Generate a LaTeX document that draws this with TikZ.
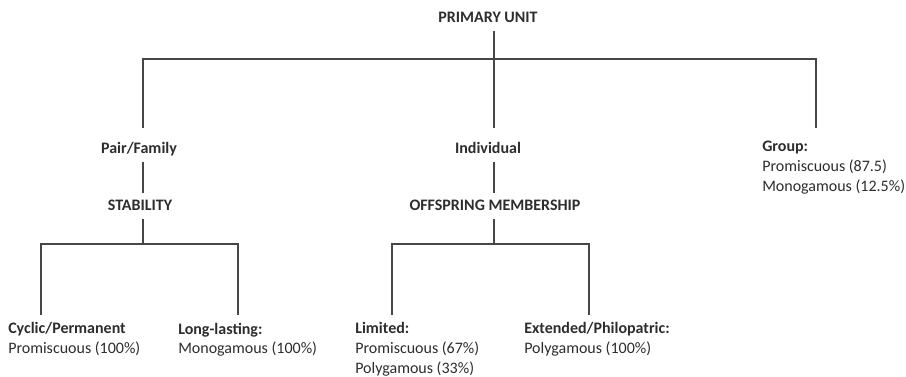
\documentclass[tikz,border=0pt]{standalone}
\usepackage{fontspec}
\setmainfont{Carlito}
\usetikzlibrary{calc}
\definecolor{inkgray}{RGB}{45,45,45}
\definecolor{linegray}{RGB}{70,70,70}

\begin{document}
\begin{tikzpicture}[x=0.75pt, y=-0.75pt,
  head/.style={font=\fontsize{12}{15}\selectfont\bfseries, text=inkgray, inner sep=0pt, text height=7.8pt, text depth=0pt, outer ysep=6pt, anchor=base},
  leaf/.style={font=\fontsize{12}{14.8}\selectfont, text=inkgray, inner sep=0pt, align=left, anchor=north west},
  link/.style={draw=linegray, line width=1.05pt}]
  \useasboundingbox (0,0) rectangle (906,377);

  \node[head] (prim) at (488,23) {PRIMARY UNIT};
  \node[head] (pair) at (139,154) {Pair/Family};
  \node[head] (indiv) at (488,154) {Individual};
  \node[leaf] (group) at (762,141) {\textbf{Group:}\\Promiscuous (87.5)\\Monogamous (12.5\%)};
  \node[head] (stab) at (140,211) {STABILITY};
  \node[head] (offs) at (495,211) {OFFSPRING MEMBERSHIP};

  \node[leaf] (cyc) at (8,322.5) {\textbf{Cyclic/Permanent}\\Promiscuous (100\%)};
  \node[leaf] (long) at (178,322.5) {\textbf{Long-lasting:}\\Monogamous (100\%)};
  \node[leaf] (lim) at (355,322.5) {\textbf{Limited:}\\Promiscuous (67\%)\\Polygamous (33\%)};
  \node[leaf] (ext) at (524,322.5) {\textbf{Extended/Philopatric:}\\Polygamous (100\%)};

  % top level
  \coordinate (fork) at (494,59);
  \coordinate (lbar) at (143,59);
  \coordinate (gtop) at ($(group.north west)+(54,-13)$);
  \draw[link, shorten >=5.7pt] (prim.south -| fork) -- (indiv.north -| fork);
  \draw[link, shorten <=5.7pt] (pair.north -| lbar) |- (fork) -| (gtop);

  % second level
  \draw[link] (pair.south -| lbar) -- (stab.north -| lbar);
  \draw[link] (indiv.south -| fork) -- (offs.north -| fork);

  % leaves
  \draw[link] (stab.south -| lbar) -- ++(0,25);
  \draw[link] ($(cyc.north west)+(33,-7.5)$) |- ($(stab.south -| lbar)+(0,25)$) -| ($(long.north west)+(60,-7.5)$);
  \draw[link] (offs.south -| fork) -- ++(0,25);
  \draw[link] ($(lim.north west)+(37,-7.5)$) |- ($(offs.south -| fork)+(0,25)$) -| ($(ext.north west)+(65,-7.5)$);
\end{tikzpicture}
\end{document}
